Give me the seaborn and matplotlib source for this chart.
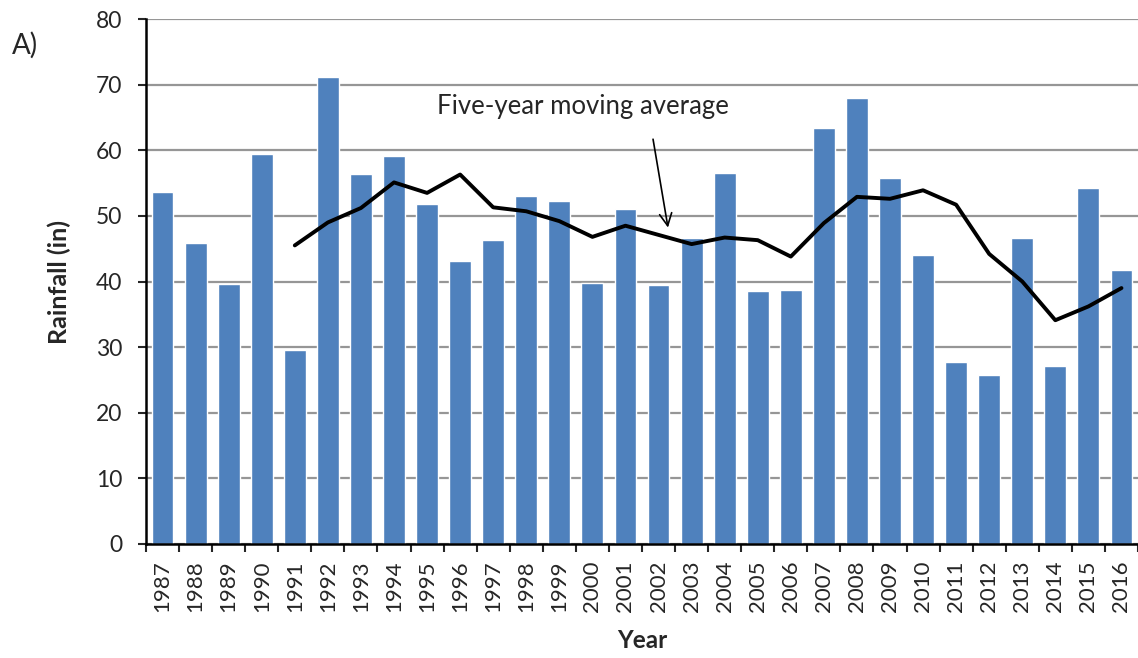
import numpy as np
import pandas as pd
import matplotlib
matplotlib.use("Agg")
import matplotlib.pyplot as plt
import seaborn as sns

# data
years = list(range(1987, 2017))
rainfall = [53.7, 45.8, 39.6, 59.5, 29.6, 71.2, 56.4, 59.1, 51.8, 43.2,
            46.3, 53.0, 52.2, 39.8, 51.0, 39.4, 46.6, 56.6, 38.5, 38.7,
            63.4, 67.9, 55.7, 44.0, 27.7, 25.8, 46.6, 27.1, 54.2, 41.8]
ma_years = list(range(1991, 2017))
moving_avg = [45.5, 49.0, 51.2, 55.1, 53.5, 56.3, 51.3, 50.7, 49.2, 46.8,
              48.5, 47.1, 45.7, 46.7, 46.3, 43.8, 48.9, 52.9, 52.6, 53.9,
              51.7, 44.2, 40.0, 34.1, 36.2, 39.0]
y_ticks = [0, 10, 20, 30, 40, 50, 60, 70, 80]

sns.set_style("white")
plt.rcParams['font.family'] = ['Lato', 'DejaVu Sans']

df = pd.DataFrame({'Year': [str(y) for y in years], 'Rainfall': rainfall})

fig = plt.figure(figsize=(11.38, 6.58), dpi=100)
ax = fig.add_axes([146/1138, 1 - 544/658, (1138 - 146)/1138, (544 - 19)/658])

ax.set_axisbelow(True)
ax.yaxis.grid(True, color='#969696', linewidth=1.6)
sns.barplot(data=df, x='Year', y='Rainfall', color='#4F81BD', width=0.66,
            saturation=1, ax=ax, zorder=2)

# moving average line on the categorical positions
ma_pos = [years.index(y) for y in ma_years]
ax.plot(ma_pos, moving_avg, color='black', linewidth=2.8, zorder=3,
        solid_capstyle='round')

ax.annotate('', xy=(15.3, 47.8), xytext=(14.82, 62.1),
            arrowprops=dict(arrowstyle='->', color='black', lw=1.2,
                            mutation_scale=22))
ax.text(12.7, 66.6, 'Five-year moving average', ha='center', va='center',
        fontsize=18.5)

ax.set_xlim(-0.5, len(years) - 0.5)
ax.set_ylim(0, 80)
ax.set_yticks(y_ticks)
ax.tick_params(axis='y', labelsize=16.5, length=6, width=1.5, direction='out',
               left=True, pad=11)
ax.tick_params(axis='x', which='major', labelsize=16, length=0, rotation=90,
               pad=12)
ax.set_xticks(np.arange(-0.5, len(years)), minor=True)
ax.tick_params(axis='x', which='minor', length=6, width=1.5, direction='out',
               bottom=True)

for s in ['top', 'right']:
    ax.spines[s].set_visible(False)
for s in ['left', 'bottom']:
    ax.spines[s].set_color('black')
    ax.spines[s].set_linewidth(1.8)

ax.set_xlabel('Year', fontsize=17.5, fontweight='bold', labelpad=12)
ax.set_ylabel('Rainfall (in)', fontsize=18, fontweight='bold', labelpad=18)

fig.text(12/1138, 1 - 45/658, 'A)', fontsize=20, va='center', ha='left')

fig.savefig('out.png', dpi=100)
